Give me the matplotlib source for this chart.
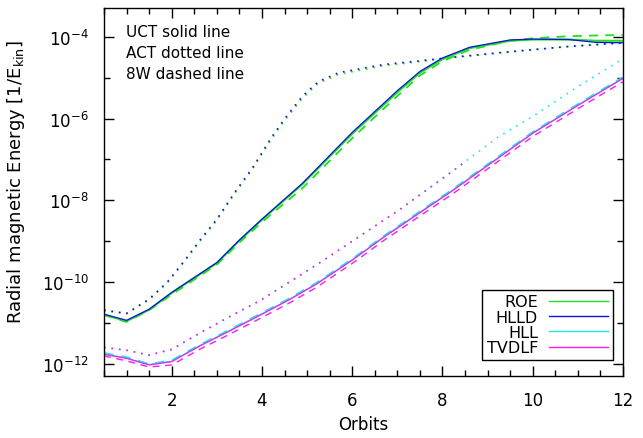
import matplotlib

matplotlib.use("Agg")
import matplotlib.pyplot as plt
import numpy as np
from matplotlib.ticker import FixedLocator, MultipleLocator, NullFormatter

# Values are log10 of the radial magnetic energy.
upper_x = [0.5, 1.0, 1.5, 2.0, 3.0, 3.5, 4.0, 4.9, 6.0, 7.0, 7.5, 8.0, 8.6, 9.5, 10.0, 10.8, 11.4, 12.0]
hlld_uct = [-10.78, -10.93, -10.66, -10.25, -9.52, -8.97, -8.46, -7.58, -6.34, -5.32, -4.85, -4.52,
            -4.26, -4.08, -4.06, -4.07, -4.14, -4.15]
roe_uct = [-10.79, -10.95, -10.67, -10.26, -9.53, -8.98, -8.47, -7.60, -6.37, -5.36, -4.88, -4.55,
           -4.28, -4.10, -4.07, -4.07, -4.10, -4.10]
roe_8w = [-10.80, -10.97, -10.68, -10.30, -9.57, -9.03, -8.53, -7.70, -6.48, -5.45, -4.95, -4.60,
          -4.32, -4.10, -4.04, -3.99, -3.97, -3.96]

act_x = [0.5, 1.0, 1.5, 1.9, 2.3, 2.64, 3.0, 3.4, 3.8, 4.2, 4.5, 4.9, 5.25, 5.7, 6.7, 7.5, 8.25, 9.0,
         9.75, 10.8, 12.0]
hlld_act = [-10.68, -10.76, -10.41, -10.00, -9.45, -8.95, -8.46, -7.80, -7.19, -6.48, -6.01, -5.45,
            -5.10, -4.88, -4.68, -4.59, -4.50, -4.42, -4.34, -4.24, -4.15]
roe_act = [-10.69, -10.77, -10.43, -10.02, -9.47, -8.98, -8.49, -7.83, -7.22, -6.52, -6.05, -5.50,
           -5.14, -4.92, -4.71, -4.61, -4.51, -4.43, -4.35, -4.24, -4.15]

lower_x = [0.5, 1.0, 1.5, 2.0, 2.6, 3.3, 4.0, 4.6, 5.2, 6.0, 6.7, 7.5, 8.2, 9.0, 10.0, 11.0, 12.0]
tvdlf_uct = [-11.76, -11.86, -12.02, -11.94, -11.57, -11.18, -10.78, -10.43, -10.05, -9.46, -8.90,
             -8.30, -7.78, -7.15, -6.36, -5.68, -5.02]
hll_uct = [-11.75, -11.85, -12.01, -11.93, -11.56, -11.17, -10.77, -10.42, -10.04, -9.45, -8.89,
           -8.29, -7.77, -7.14, -6.35, -5.67, -5.01]
hll_8w = [-11.73, -11.83, -12.00, -11.91, -11.54, -11.15, -10.75, -10.40, -10.02, -9.43, -8.87,
          -8.27, -7.75, -7.12, -6.33, -5.65, -4.99]
tvdlf_8w = [-11.80, -11.92, -12.07, -12.02, -11.65, -11.26, -10.86, -10.51, -10.13, -9.54, -8.98,
            -8.38, -7.86, -7.23, -6.44, -5.76, -5.10]

hll_act_x = [0.5, 1.0, 1.5, 2.0, 2.64, 3.3, 3.97, 4.6, 5.23, 5.97, 7.07, 8.18, 9.25, 10.0, 11.0, 12.0]
hll_act = [-11.59, -11.66, -11.78, -11.64, -11.23, -10.83, -10.44, -10.00, -9.56, -9.02, -8.21,
           -7.32, -6.44, -5.95, -5.22, -4.54]
tvdlf_act_x = [0.5, 1.0, 1.5, 2.0, 2.64, 3.3, 3.97, 4.6, 5.23, 5.97, 7.07, 8.18, 8.5]
tvdlf_act = [-11.59, -11.66, -11.78, -11.64, -11.23, -10.83, -10.44, -10.00, -9.56, -9.02, -8.21,
             -7.32, -7.06]

GREEN = "#22dd22"
BLUE = "#1010e0"
CYAN = "#22e5e5"
MAGENTA = "#ee22ee"
DOT = (0, (1, 3.5))
DASH = (0, (5, 4))


def e(v):
    return 10.0 ** np.asarray(v)


fig = plt.figure(figsize=(6.43, 4.39), dpi=100)
ax = fig.add_axes([0.1617, 0.1412, 0.8072, 0.8383])

# lower group
ax.plot(hll_act_x, e(hll_act), color=CYAN, lw=1.2, ls=DOT)
ax.plot(tvdlf_act_x, e(tvdlf_act), color=MAGENTA, lw=1.2, ls=DOT)
ax.plot(lower_x, e(tvdlf_8w), color=MAGENTA, lw=1.0, ls=DASH)
ax.plot(lower_x, e(hll_8w), color=CYAN, lw=1.4, ls=DASH)
ax.plot(lower_x, e(hll_uct), color=CYAN, lw=0.9, label="HLL")
ax.plot(lower_x, e(tvdlf_uct), color=MAGENTA, lw=0.9, label="TVDLF")

# upper group
ax.plot(act_x, e(roe_act), color=GREEN, lw=1.2, ls=DOT)
ax.plot(act_x, e(hlld_act), color=BLUE, lw=1.2, ls=DOT)
ax.plot(upper_x, e(roe_8w), color=GREEN, lw=1.3, ls=DASH)
ax.plot(upper_x, e(roe_uct), color=GREEN, lw=1.5, label="ROE")
ax.plot(upper_x, e(hlld_uct), color=BLUE, lw=0.9, label="HLLD")

ax.set_yscale("log")
ax.set_xlim(0.5, 12)
ax.set_ylim(10 ** -12.29, 10 ** -3.3)

ax.xaxis.set_major_locator(FixedLocator([2, 4, 6, 8, 10, 12]))
ax.xaxis.set_minor_locator(MultipleLocator(0.5))
ax.yaxis.set_major_locator(FixedLocator([1e-12, 1e-10, 1e-8, 1e-6, 1e-4]))
ax.yaxis.set_minor_locator(FixedLocator([1e-11, 1e-9, 1e-7, 1e-5]))
ax.yaxis.set_minor_formatter(NullFormatter())
ax.set_yticklabels([r"$10^{-12}$", r"$10^{-10}$", r"$10^{-8}$", r"$10^{-6}$", r"$10^{-4}$"])

ax.tick_params(which="both", direction="in", top=True, right=True, width=1.0)
ax.tick_params(which="major", length=7, labelsize=12, pad=11)
ax.tick_params(which="minor", length=4)
for sp in ax.spines.values():
    sp.set_linewidth(1.0)

ax.set_xlabel("Orbits", fontsize=12, labelpad=4)
ax.set_ylabel(r"Radial magnetic Energy [1/E$_{\rm kin}$]", fontsize=13)
ax.yaxis.set_label_coords(-0.148, 0.53)

for i, txt in enumerate(["UCT solid line", "ACT dotted line", "8W dashed line"]):
    ax.text(0.042, 0.935 - 0.057 * i, txt, transform=ax.transAxes, fontsize=11,
            ha="left", va="center")

handles, labels = ax.get_legend_handles_labels()
order = ["ROE", "HLLD", "HLL", "TVDLF"]
hmap = dict(zip(labels, handles))
leg = ax.legend([hmap[k] for k in order], order, loc="lower right",
                bbox_to_anchor=(0.981, 0.043), borderaxespad=0, fontsize=11.5,
                markerfirst=False, fancybox=False, framealpha=1, edgecolor="black",
                handlelength=3.7, handletextpad=0.7, labelspacing=0.02, borderpad=0.3)
leg.get_frame().set_linewidth(1.0)
for line in leg.get_lines():
    line.set_linewidth(1.0)

fig.savefig("out.png", dpi=100)
